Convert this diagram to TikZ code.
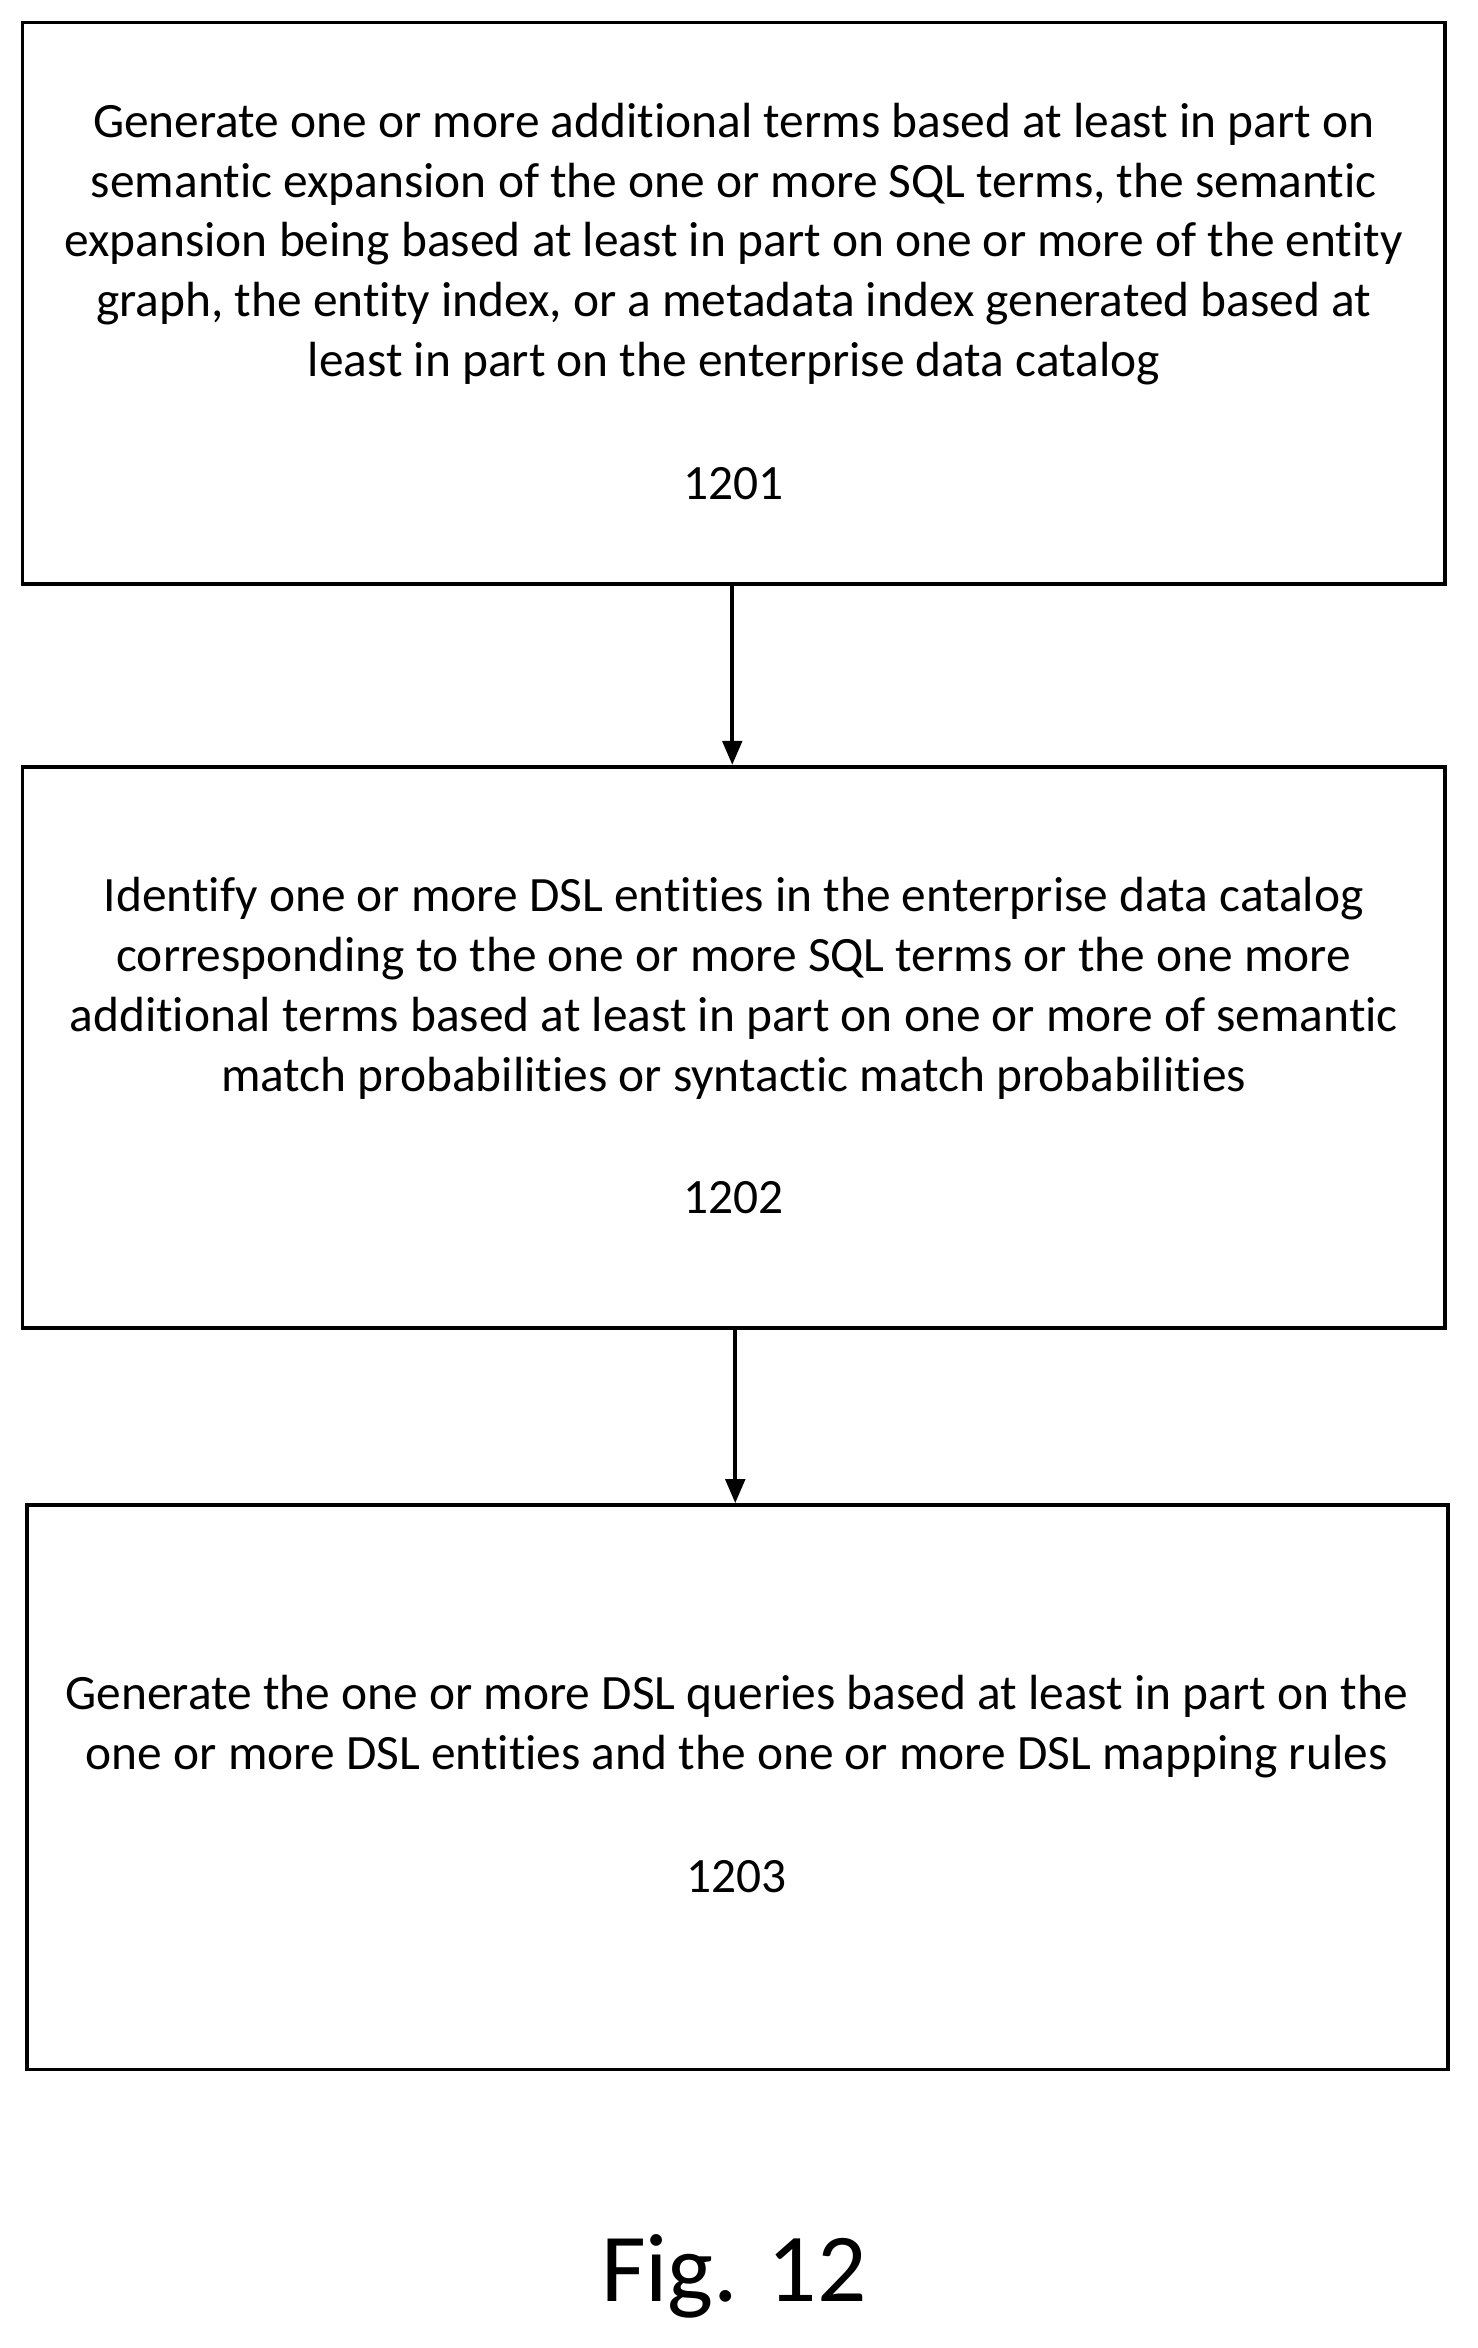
\documentclass[tikz,border=0pt]{standalone}
\usepackage{fontspec}
\setmainfont{Carlito}[RawFeature=-liga]
\usetikzlibrary{arrows.meta}
\begin{document}
\begin{tikzpicture}[x=1pt,y=-1pt,
  box/.style={draw,line width=2.5pt,inner sep=0pt},
  txt/.style={align=center,font=\fontsize{33}{40}\selectfont,inner sep=0pt},
  arr/.style={-{Triangle[length=16pt,width=13pt]},line width=2.5pt}]
\useasboundingbox (0,0) rectangle (987,1568);
\node[box,minimum width=950pt,minimum height=375pt] (b1) at (490,202.5) {};
\node[box,minimum width=950pt,minimum height=375pt] (b2) at (490,699.5) {};
\node[box,minimum width=949pt,minimum height=377pt] (b3) at (492.5,1193.5) {};
\node[txt] (t1) at (490,163) {Generate one or more additional terms based at least in part on\\semantic expansion of the one or more SQL terms, the semantic\\expansion being based at least in part on one or more of the entity\\graph, the entity index, or a metadata index generated based at\\least in part on the enterprise data catalog};
\node[txt] (n1) at (490,323) {1201};
\node[txt] (t2) at (490,660) {Identify one or more DSL entities in the enterprise data catalog\\corresponding to the one or more SQL terms or the one more\\additional terms based at least in part on one or more of semantic\\match probabilities or syntactic match probabilities};
\node[txt] (n2) at (490,800) {1202};
\node[txt] (t3) at (492,1153) {Generate the one or more DSL queries based at least in part on the\\one or more DSL entities and the one or more DSL mapping rules};
\node[txt] (n3) at (492,1253) {1203};
\node[font=\fontsize{65}{75}\selectfont] (fig) at (490,1520) {Fig. 12};
\draw[arr] (b1.south -| 489,0) -- (b2.north -| 489,0);
\draw[arr] (b2.south -| 491,0) -- (b3.north -| 491,0);
\end{tikzpicture}
\end{document}
